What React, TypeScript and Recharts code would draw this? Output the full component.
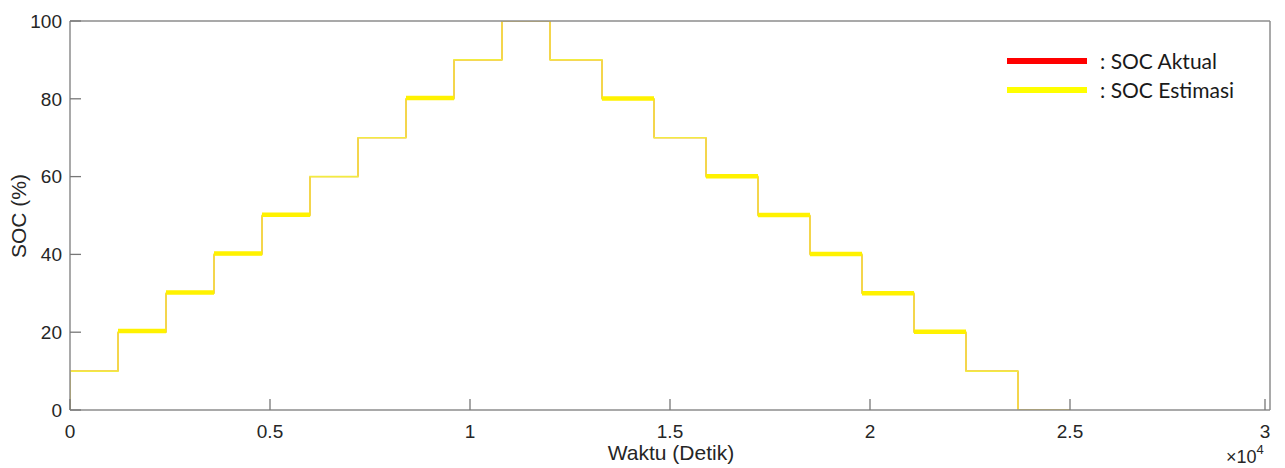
import React from 'react';
import { LineChart, Line, XAxis, YAxis, Legend } from 'recharts';

// Time (s) at each step change and the actual SOC (%) held from that time
const stepTimes = [0, 0, 1200, 2400, 3600, 4800, 6000, 7200, 8400, 9600, 10800, 12000, 13300, 14600, 15900, 17200, 18500, 19800, 21100, 22400, 23700, 25000];
const socActual = [0, 10, 20, 30, 40, 50, 60, 70, 80, 90, 100, 90, 80, 70, 60, 50, 40, 30, 20, 10, 0, 0];
const socEstimate = [0, 10, 20, 30, 40, 50, 60, 70, 80, 90, 100, 90, 80, 70, 60, 50, 40, 30, 20, 10, 0, 0];

// Steps where the estimate fluctuates visibly (drawn as a thicker band)
const noisyStart = [1200, 2400, 3600, 4800, 8400, 13300, 15900, 17200, 18500, 19800, 21100];
const noisyEnd = [2400, 3600, 4800, 6000, 9600, 14600, 17200, 18500, 19800, 21100, 22400];
const noisyLevel = [20.3, 30.2, 40.2, 50.2, 80.2, 80.1, 60.1, 50.1, 40.1, 30, 20.1];

const xTicks = [0, 5000, 10000, 15000, 20000, 25000, 30000];
const yTicks = [0, 20, 40, 60, 80, 100];

const seriesNames = [': SOC Aktual', ': SOC Estimasi'];
const seriesColors = ['#FF0000', '#FFFF00'];

const actualData = stepTimes.map((t, i) => ({ t, v: socActual[i] }));
const estimateData = stepTimes.map((t, i) => ({ t, v: socEstimate[i] }));
const noisyData: { t: number; v: number | null }[] = [];
noisyStart.forEach((s, i) => {
  noisyData.push({ t: s, v: noisyLevel[i] });
  noisyData.push({ t: noisyEnd[i], v: noisyLevel[i] });
  noisyData.push({ t: noisyEnd[i], v: null });
});

const axisColor = '#8c8c8c';
const tickColor = '#777777';
const textColor = '#262626';
const font = '"Liberation Sans", Arial, sans-serif';
const tickLen = 11;

const XTick = (props: any) => {
  const { x, y, payload } = props;
  return (
    <g>
      <line x1={x} x2={x} y1={y} y2={y - tickLen} stroke={tickColor} strokeWidth={1.3} />
      <text x={x} y={y + 15} dy="0.71em" textAnchor="middle" fontFamily={font} fontSize={19} fill={textColor}>
        {String(payload.value / 10000)}
      </text>
    </g>
  );
};

const YTick = (props: any) => {
  const { x, y, payload } = props;
  return (
    <g>
      <line x1={x} x2={x + tickLen} y1={y} y2={y} stroke={tickColor} strokeWidth={1.3} />
      <text x={x - 8} y={y} dy="0.36em" textAnchor="end" fontFamily={font} fontSize={19} fill={textColor}>
        {String(payload.value)}
      </text>
    </g>
  );
};

const LegendContent = () => (
  <div style={{ fontFamily: 'Lato, "Open Sans", sans-serif', fontSize: 21, color: '#1a1a1a' }}>
    {seriesNames.map((n, i) => (
      <div key={n} style={{ display: 'flex', alignItems: 'center', height: 29 }}>
        <div style={{ width: 80, height: 6, background: seriesColors[i], marginRight: 13 }} />
        <span>{n}</span>
      </div>
    ))}
  </div>
);

export default function App() {
  return (
    <div style={{ position: 'absolute', left: 0, top: 0, width: 1285, height: 468, background: '#fff' }}>
      <LineChart width={1285} height={468} margin={{ top: 20, right: 14, left: 69, bottom: 57 }}>
        <XAxis
          dataKey="t"
          type="number"
          domain={[0, 30000]}
          ticks={xTicks}
          height={1}
          tickSize={0}
          tickMargin={0}
          tickLine={false}
          tick={XTick}
          axisLine={{ stroke: axisColor, strokeWidth: 1.5 }}
          allowDataOverflow
        />
        <XAxis
          xAxisId="top"
          orientation="top"
          type="number"
          domain={[0, 30000]}
          height={1}
          tick={false}
          tickLine={false}
          axisLine={{ stroke: axisColor, strokeWidth: 1.5 }}
        />
        <YAxis
          type="number"
          domain={[0, 100]}
          ticks={yTicks}
          width={1}
          tickSize={0}
          tickMargin={0}
          tickLine={false}
          tick={YTick}
          axisLine={{ stroke: axisColor, strokeWidth: 1.5 }}
          allowDataOverflow
        />
        <YAxis
          yAxisId="right"
          orientation="right"
          type="number"
          domain={[0, 100]}
          width={1}
          tick={false}
          tickLine={false}
          axisLine={{ stroke: axisColor, strokeWidth: 1.5 }}
        />
        <Legend
          layout="horizontal"
          verticalAlign="middle"
          align="center"
          content={<LegendContent />}
          wrapperStyle={{ position: 'absolute', left: 1007, top: 46, width: 270 }}
        />
        <Line data={actualData} dataKey="v" name="actual" type="stepAfter" stroke="#FF0000" strokeWidth={1} dot={false} isAnimationActive={false} />
        <Line data={estimateData} dataKey="v" name="estimate" type="stepAfter" stroke="#F2EC40" strokeWidth={1.6} dot={false} isAnimationActive={false} />
        <Line data={noisyData} dataKey="v" name="noise" type="linear" stroke="#FFF200" strokeWidth={4.5} dot={false} connectNulls={false} isAnimationActive={false} />
      </LineChart>
      <div style={{ position: 'absolute', left: 19, top: 216, transform: 'translate(-50%, -50%) rotate(-90deg)', fontFamily: font, fontSize: 21, color: textColor, whiteSpace: 'nowrap' }}>
        SOC (%)
      </div>
      <div style={{ position: 'absolute', left: 671, top: 453, transform: 'translate(-50%, -50%)', fontFamily: font, fontSize: 21, color: textColor, whiteSpace: 'nowrap' }}>
        Waktu (Detik)
      </div>
      <div style={{ position: 'absolute', left: 1226, top: 447, fontFamily: font, fontSize: 18, color: textColor, whiteSpace: 'nowrap' }}>
        ×10<sup style={{ fontSize: 13, verticalAlign: 'top', position: 'relative', top: -5 }}>4</sup>
      </div>
    </div>
  );
}
